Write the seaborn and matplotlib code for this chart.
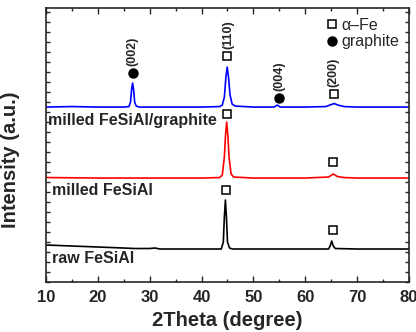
import numpy as np
import pandas as pd
import matplotlib
matplotlib.use("Agg")
import matplotlib.pyplot as plt
from matplotlib.lines import Line2D
from matplotlib.ticker import MultipleLocator
import seaborn as sns

# %% data (intensity in arbitrary, offset units)
raw_x = [10, 15, 20, 25, 27, 30, 31, 32, 40, 43.8, 44.2, 44.4, 44.6, 44.8, 45.0, 45.4, 46,
         55, 64.5, 64.8, 65.1, 65.4, 65.8, 70, 80]
raw_y = [37, 36, 35, 34, 33.5, 33.5, 34, 33, 33, 33, 40, 65, 82, 65, 40, 34, 33,
         33, 33, 36, 41, 36, 33.5, 33, 33]

milled_x = [10, 20, 30, 40, 43.5, 44.0, 44.4, 44.6, 44.85, 45.1, 45.3, 45.7, 46.2,
            50, 60, 64.5, 65.4, 66.2, 67.5, 70, 80]
milled_y = [104.5, 104, 104, 104, 104.5, 107, 125, 145, 160, 145, 125, 108, 105,
            104, 104, 105, 108, 105.5, 104.5, 104, 104]

graph_x = [10, 15, 20, 25, 26.0, 26.3, 26.5, 26.7, 26.9, 27.1, 27.4, 28, 35, 40,
           43.5, 44.0, 44.4, 44.7, 44.95, 45.2, 45.5, 45.9, 46.5, 50, 54.0, 54.6, 55.2,
           60, 64.0, 65.0, 65.6, 66.3, 67.5, 70, 75, 80]
graph_y = [175, 175.5, 175, 175, 175.5, 180, 192, 199, 192, 180, 176, 175, 175, 175,
           175.5, 177, 185, 205, 215, 205, 187, 178, 176, 175, 175, 177, 175,
           175, 175.5, 177.5, 178.5, 177, 175.5, 175, 175, 175]

fe_x = [44.95, 44.85, 65.4, 44.65, 65.3, 65.5]
fe_y = [226, 168, 120, 92, 52, 188]
c_x = [26.7, 55.0]
c_y = [209, 184]

hkl_labels = ["(002)", "(110)", "(004)", "(200)"]
hkl_x = [26.7, 45.2, 55.0, 65.5]
hkl_y = [216, 233, 191, 195]

sample_names = ["milled FeSiAl/graphite", "milled FeSiAl", "raw FeSiAl"]
sample_y = [162, 92, 24]

# %%
sns.set_style("ticks")
plt.rcParams["font.family"] = ["Liberation Sans", "DejaVu Sans"]
plt.rcParams["font.weight"] = "bold"

fig = plt.figure(figsize=(4.16, 3.32), dpi=100)
ax = fig.add_axes([0.1106, 0.1506, 0.8724, 0.825])

sns.lineplot(x=raw_x, y=raw_y, ax=ax, color="black", lw=1.2, legend=False)
sns.lineplot(x=milled_x, y=milled_y, ax=ax, color="red", lw=1.2, legend=False)
sns.lineplot(x=graph_x, y=graph_y, ax=ax, color="blue", lw=1.2, legend=False)

ax.plot(fe_x, fe_y, ls="none", marker="s", ms=6, mfc="white", mec="black", mew=1.1)
ax.plot(c_x, c_y, ls="none", marker="o", ms=6.5, mfc="black", mec="black")

for lab, x, y in zip(hkl_labels, hkl_x, hkl_y):
    ax.text(x, y, lab, rotation=90, ha="center", va="bottom", fontsize=9, fontweight="bold")

for lab, y in zip(sample_names, sample_y):
    ax.text(10.3 if lab.startswith("milled FeSiAl/") else 11.1, y, lab,
            ha="left", va="center", fontsize=11.5, fontweight="bold")

handles = [Line2D([], [], ls="none", marker="s", ms=6, mfc="white", mec="black", mew=1.1),
           Line2D([], [], ls="none", marker="o", ms=6.5, mfc="black", mec="black")]
leg = ax.legend(handles, ["\u03b1\u2013Fe", "graphite"], loc="upper right",
                bbox_to_anchor=(1.0, 1.0), frameon=False, handlelength=0.6,
                handletextpad=0.3, labelspacing=0.1, borderaxespad=0.2,
                prop={"size": 11.5, "weight": "normal"})

ax.set_xlim(10, 80)
ax.set_ylim(0, 274)
ax.xaxis.set_major_locator(MultipleLocator(10))
ax.xaxis.set_minor_locator(MultipleLocator(5))
ax.yaxis.set_major_locator(MultipleLocator(20))
ax.yaxis.set_minor_locator(MultipleLocator(10))
ax.tick_params(which="both", direction="in", top=True, right=True, width=1)
ax.tick_params(which="major", length=4, labelsize=12, pad=6)
ax.tick_params(which="minor", length=2.5)
ax.tick_params(axis="y", which="both", labelleft=False, length=3)
for s in ax.spines.values():
    s.set_linewidth(1.2)

ax.set_xlabel("2Theta (degree)", fontsize=14.5, fontweight="bold", labelpad=4)
ax.set_ylabel("Intensity (a.u.)", fontsize=14.5, fontweight="bold")
ax.yaxis.set_label_coords(-0.072, 0.445)

fig.savefig("out.png", dpi=100)
